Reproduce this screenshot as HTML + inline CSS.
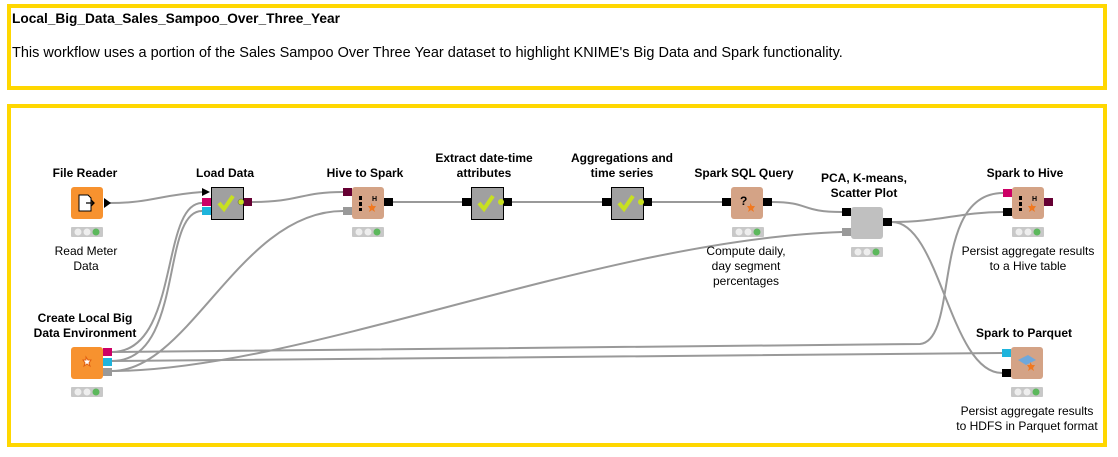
<!DOCTYPE html>
<html><head><meta charset="utf-8"><style>
body{margin:0;width:1118px;height:452px;background:#fff;overflow:hidden;font-family:"Liberation Sans",Arial,sans-serif}
</style></head><body>
<svg width="1118" height="452" viewBox="0 0 1118 452" xmlns="http://www.w3.org/2000/svg" font-family="Liberation Sans, Arial, sans-serif">
<rect x="9" y="6" width="1096" height="82" fill="#fff" stroke="#ffd700" stroke-width="4"/>
<text x="12" y="23" font-size="13.7" font-weight="bold" fill="#000">Local_Big_Data_Sales_Sampoo_Over_Three_Year</text>
<text x="12" y="57" font-size="14.5" fill="#000">This workflow uses a portion of the Sales Sampoo Over Three Year dataset to highlight KNIME's Big Data and Spark functionality.</text>
<rect x="9" y="106" width="1096" height="339" fill="#fff" stroke="#ffd700" stroke-width="4"/>

<g fill="none" stroke="#999" stroke-width="2">
<path d="M110 203 C150 203,160 195,202 192"/>
<path d="M112 352 C180 352,160 203,202 203"/>
<path d="M112 361 C185 361,160 211,202 211"/>
<path d="M251 202 C300 202,300 192,343 192"/>
<path d="M112 371 C190 371,240 211,343 211"/>
<path d="M393 202 L462 202"/>
<path d="M512 202 L602 202"/>
<path d="M652 202 L722 202"/>
<path d="M772 202 C810 202,800 212,842 212"/>
<path d="M112 371 C300 371,600 240,842 232"/>
<path d="M892 222 C940 222,960 212,1003 212"/>
<path d="M892 222 C940 222,950 373,1002 373"/>
<path d="M112 352 C500 350,880 346,920 344 C960 340,930 193,1003 193"/>
<path d="M112 361 C500 358,900 353,1002 353"/>
</g>

<g font-size="12" font-weight="bold" fill="#000" text-anchor="middle">
<text x="85" y="177">File Reader</text>
<text x="225" y="177">Load Data</text>
<text x="365" y="177">Hive to Spark</text>
<text x="484" y="162">Extract date-time</text>
<text x="484" y="177">attributes</text>
<text x="622" y="162">Aggregations and</text>
<text x="622" y="177">time series</text>
<text x="744" y="177">Spark SQL Query</text>
<text x="864" y="182">PCA, K-means,</text>
<text x="864" y="197">Scatter Plot</text>
<text x="1025" y="177">Spark to Hive</text>
<text x="1024" y="337">Spark to Parquet</text>
<text x="85" y="322">Create Local Big</text>
<text x="85" y="337">Data Environment</text>
</g>
<g font-size="12" fill="#000" text-anchor="middle">
<text x="86" y="255">Read Meter</text>
<text x="86" y="270">Data</text>
<text x="746" y="255">Compute daily,</text>
<text x="746" y="270">day segment</text>
<text x="746" y="285">percentages</text>
<text x="1028" y="255">Persist aggregate results</text>
<text x="1028" y="270">to a Hive table</text>
<text x="1027" y="415">Persist aggregate results</text>
<text x="1027" y="430">to HDFS in Parquet format</text>
</g>

<rect x="71" y="187" width="32" height="32" rx="3" fill="#f7922f"/>
<path d="M79 195 h9 l3 3 v13 h-12 z" fill="#fff" stroke="#000" stroke-width="1"/>
<path d="M86 203 h8 m-3 -3 l3 3 l-3 3" stroke="#000" stroke-width="1.3" fill="none"/>
<path d="M104 198 l7 5 l-7 5z" fill="#000"/>
<path d="M202 188 l8 4 l-8 4z" fill="#000"/>
<rect x="202" y="198" width="9" height="8" fill="#cc0066"/>
<rect x="202" y="207" width="9" height="8" fill="#1eb4dc"/>
<rect x="211.5" y="187.5" width="32" height="32" fill="#a0a0a0" stroke="#000"/>
<path d="M219 203 l5 6 l9 -13" stroke="#c8e020" stroke-width="4" fill="none"/>
<circle cx="241" cy="202" r="3" fill="#c8e020" stroke="#555" stroke-width=".5"/>
<rect x="244" y="198" width="8" height="8" fill="#660033"/>
<rect x="343" y="188" width="9" height="8" fill="#660033"/>
<rect x="343" y="207" width="9" height="8" fill="#999"/>
<rect x="352" y="187" width="32" height="32" rx="3" fill="#d4a386"/>
<path d="M359 196 h3 v4 h-3z M359 202 h3 v4 h-3z M359 208 h3 v3 h-3z" fill="#000"/>
<text x="372" y="201" font-size="7" font-weight="bold">H</text>
<path d="M371 203 l2 3 h3 l-2 3 l1 3 l-3 -2 l-3 2 l1 -3 l-2 -3 h3z" fill="#f07820"/>
<rect x="384" y="198" width="9" height="8" fill="#000"/>
<rect x="462" y="198" width="9" height="8" fill="#000"/>
<rect x="471.5" y="187.5" width="32" height="32" fill="#a0a0a0" stroke="#000"/>
<path d="M479 203 l5 6 l9 -13" stroke="#c8e020" stroke-width="4" fill="none"/>
<circle cx="501" cy="202" r="3" fill="#c8e020"/>
<rect x="504" y="198" width="8" height="8" fill="#000"/>
<rect x="602" y="198" width="9" height="8" fill="#000"/>
<rect x="611.5" y="187.5" width="32" height="32" fill="#a0a0a0" stroke="#000"/>
<path d="M619 203 l5 6 l9 -13" stroke="#c8e020" stroke-width="4" fill="none"/>
<circle cx="641" cy="202" r="3" fill="#c8e020"/>
<rect x="644" y="198" width="8" height="8" fill="#000"/>
<rect x="722" y="198" width="9" height="8" fill="#000"/>
<rect x="731" y="187" width="32" height="32" rx="3" fill="#d4a386"/>
<text x="740" y="205" font-size="12" font-weight="bold">?</text>
<path d="M750 203 l2 3 h3 l-2 3 l1 3 l-3 -2 l-3 2 l1 -3 l-2 -3 h3z" fill="#f07820"/>
<rect x="763" y="198" width="9" height="8" fill="#000"/>
<rect x="842" y="208" width="9" height="8" fill="#000"/>
<rect x="842" y="228" width="9" height="8" fill="#999"/>
<rect x="851" y="207" width="32" height="32" rx="3" fill="#c0c0c0"/>
<rect x="883" y="218" width="9" height="8" fill="#000"/>
<rect x="1003" y="189" width="9" height="8" fill="#cc0066"/>
<rect x="1003" y="208" width="9" height="8" fill="#000"/>
<rect x="1012" y="187" width="32" height="32" rx="3" fill="#d4a386"/>
<path d="M1019 196 h3 v4 h-3z M1019 202 h3 v4 h-3z M1019 208 h3 v3 h-3z" fill="#000"/>
<text x="1032" y="201" font-size="7" font-weight="bold">H</text>
<path d="M1031 203 l2 3 h3 l-2 3 l1 3 l-3 -2 l-3 2 l1 -3 l-2 -3 h3z" fill="#f07820"/>
<rect x="1044" y="198" width="9" height="8" fill="#660033"/>
<rect x="1002" y="349" width="9" height="8" fill="#1eb4dc"/>
<rect x="1002" y="369" width="9" height="8" fill="#000"/>
<rect x="1011" y="347" width="32" height="32" rx="3" fill="#d4a386"/>
<path d="M1018 360 l10 -5 l8 5 l-10 5z" fill="#6fa8dc"/>
<path d="M1030 362 l2 3 h3 l-2 3 l1 3 l-3 -2 l-3 2 l1 -3 l-2 -3 h3z" fill="#f07820"/>
<rect x="71" y="347" width="32" height="32" rx="3" fill="#f7922f"/>
<path d="M86 357 l2 3 h3 l-2 3 l1 3 l-3 -2 l-3 2 l1 -3 l-2 -3 h3z" fill="#fff" stroke="#e06010"/>
<rect x="103" y="348" width="9" height="8" fill="#cc0066"/>
<rect x="103" y="358" width="9" height="8" fill="#1eb4dc"/>
<rect x="103" y="368" width="9" height="8" fill="#999"/>

<g id="st">
<rect x="71" y="227" width="32" height="10" rx="1" fill="#c8c8c8"/>
<circle cx="78" cy="232" r="3.5" fill="#eee"/><circle cx="87" cy="232" r="3.5" fill="#eee"/><circle cx="96" cy="232" r="3.5" fill="#5cb85c"/>
</g>
<use href="#st" x="281"/>
<use href="#st" x="661"/>
<use href="#st" x="780" y="20"/>
<use href="#st" x="941"/>
<use href="#st" x="940" y="160"/>
<use href="#st" x="0" y="160"/>
</svg>
</body></html>
